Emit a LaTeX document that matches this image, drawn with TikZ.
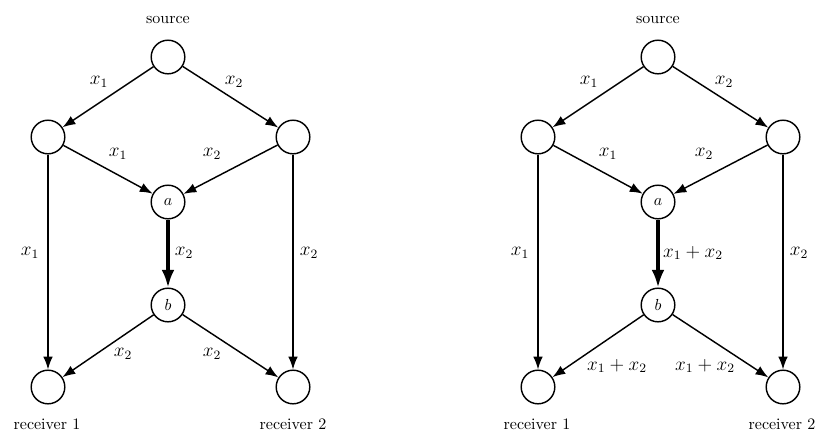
\documentclass[tikz,border=0pt]{standalone}
\usetikzlibrary{arrows.meta}
\begin{document}
\begin{tikzpicture}[x=0.625pt,y=-0.625pt,
  vtx/.style={circle,draw,line width=0.9pt,minimum size=21pt,inner sep=0pt},
  arr/.style={line width=0.9pt,-{Latex[length=8pt,width=6pt]}},
  thickarr/.style={line width=2pt,-{Latex[length=11pt,width=8pt]}},
  lbl/.style={font=\large,inner sep=0pt},
  captxt/.style={inner sep=0pt}]
\useasboundingbox (0,0) rectangle (830,445);
% left diagram
\node[vtx] (s) at (168,57) {};
\node[vtx] (l) at (48,137) {};
\node[vtx] (r) at (293,137) {};
\node[vtx] (a) at (168,202) {$a$};
\node[vtx] (b) at (168,305) {$b$};
\node[vtx] (t1) at (48,387) {};
\node[vtx] (t2) at (293,387) {};
\node[captxt] (sl) at (168,20) {source};
\node[captxt] (t1l) at (47,424) {receiver 1};
\node[captxt] (t2l) at (293,424) {receiver 2};
\draw[arr] (s) -- (l);
\draw[arr] (s) -- (r);
\draw[arr] (l) -- (a);
\draw[arr] (r) -- (a);
\draw[thickarr] (a) -- (b);
\draw[arr] (l) -- (t1);
\draw[arr] (r) -- (t2);
\draw[arr] (b) -- (t1);
\draw[arr] (b) -- (t2);
\node[lbl] (e1) at (99,82) {$x_1$};
\node[lbl] (e2) at (234,82) {$x_2$};
\node[lbl] (e3) at (118,154) {$x_1$};
\node[lbl] (e4) at (212,154) {$x_2$};
\node[lbl] (e5) at (30,253) {$x_1$};
\node[lbl] (e6) at (184,253) {$x_2$};
\node[lbl] (e7) at (309,253) {$x_2$};
\node[lbl] (e8) at (123,354) {$x_2$};
\node[lbl] (e9) at (212,354) {$x_2$};
% right diagram
\node[vtx] (S) at (658,57) {};
\node[vtx] (L) at (538,137) {};
\node[vtx] (R) at (783,137) {};
\node[vtx] (A) at (658,202) {$a$};
\node[vtx] (B) at (658,305) {$b$};
\node[vtx] (T1) at (538,387) {};
\node[vtx] (T2) at (783,387) {};
\node[captxt] (SL) at (658,20) {source};
\node[captxt] (T1L) at (537,424) {receiver 1};
\node[captxt] (T2L) at (782,424) {receiver 2};
\draw[arr] (S) -- (L);
\draw[arr] (S) -- (R);
\draw[arr] (L) -- (A);
\draw[arr] (R) -- (A);
\draw[thickarr] (A) -- (B);
\draw[arr] (L) -- (T1);
\draw[arr] (R) -- (T2);
\draw[arr] (B) -- (T1);
\draw[arr] (B) -- (T2);
\node[lbl] (E1) at (589,82) {$x_1$};
\node[lbl] (E2) at (724,82) {$x_2$};
\node[lbl] (E3) at (608,154) {$x_1$};
\node[lbl] (E4) at (704,154) {$x_2$};
\node[lbl] (E5) at (520,253) {$x_1$};
\node[lbl] (E6) at (693,253) {$x_1+x_2$};
\node[lbl] (E7) at (799,253) {$x_2$};
\node[lbl] (E8) at (617,366) {$x_1+x_2$};
\node[lbl] (E9) at (705,366) {$x_1+x_2$};
\end{tikzpicture}
\end{document}
